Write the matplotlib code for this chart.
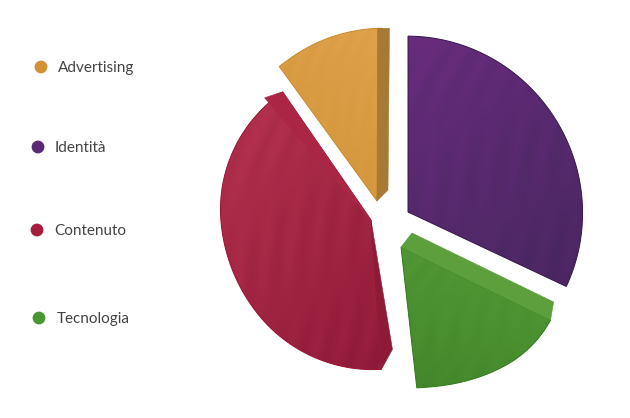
import numpy as np
import matplotlib
matplotlib.use("Agg")
import matplotlib.pyplot as plt
from matplotlib.colors import LinearSegmentedColormap
from matplotlib.patches import Polygon

plt.rcParams['font.family'] = ['Lato', 'DejaVu Sans']

# slices, clockwise starting at the top right
labels = ['Identità', 'Tecnologia', 'Contenuto', 'Advertising']
shares = [32, 16, 41.5, 10.5]

# look of each slice
centers = [(408, 212), (401, 247), (371, 220), (377, 201)]
start_angles = [90, -26, -86, 126]
radii = [(176, 174, 175), (167, 163, 154, 146, 141), (150, 148, 146, 154, 156), (166, 170, 173)]
light = ['#672c7c', '#559c38', '#b5324f', '#e0a24c']
dark = ['#47265f', '#42852a', '#8f1a38', '#d09438']
edges = ['#35174a', '#2f7a18', '#9c1030', '#c98a2a']
grad_dir = [(-0.5, -1), (0.3, -1), (-0.6, -1), (0.4, -1)]

# side faces: slice, which edge, apex shift, rim shift, colour
sides = [(1, 'start', (11, -14), (3, -18), '#5c9f3c'),
         (2, 'start', (0, 0), (11, -20), '#8e1b36'),
         (2, 'end', (0, 0), (-18, 6), '#ab2545'),
         (3, 'end', (11, -11), (7, 0), '#a67a34'),
         (3, 'end', (0, 0), (-5, 0), '#a67a34')]

# legend
legend_names = ['Advertising', 'Identità', 'Contenuto', 'Tecnologia']
legend_colors = ['#d29233', '#5b2a76', '#a51f3c', '#4a9635']
legend_dot_x = [41, 38, 37, 39]
legend_y = [67, 147, 230, 318]
legend_text_x = [58, 55, 54, 57]


def slice_outline(i):
    sweep = shares[i] / sum(shares) * 360
    ang = np.radians(np.linspace(start_angles[i], start_angles[i] - sweep, 90))
    r = np.interp(np.linspace(0, 1, 90), np.linspace(0, 1, len(radii[i])), radii[i])
    # soften the joins between the radius steps
    padded = np.pad(r, 12, mode='edge')
    r = np.convolve(padded, np.ones(25) / 25, mode='valid')
    cx, cy = centers[i]
    x = cx + r * np.cos(ang)
    y = cy - r * np.sin(ang)
    return np.column_stack([x, y])


def shaded_fill(ax, pts, c1, c2, direction, edge):
    # gradient image clipped to the slice, with faint brush-like waves
    x0, y0 = pts.min(axis=0)
    x1, y1 = pts.max(axis=0)
    gx, gy = np.meshgrid(np.linspace(0, 1, 200), np.linspace(0, 1, 200))
    g = gx * direction[0] + gy * direction[1]
    g = (g - g.min()) / (g.max() - g.min())
    g = g + 0.10 * np.sin(40 * (gx + 0.5 * gy) + 3 * np.sin(5 * gy)) * np.sin(7 * gy + 2 * gx)
    cmap = LinearSegmentedColormap.from_list('s', [c1, c2])
    im = ax.imshow(g, cmap=cmap, extent=(x0, x1, y1, y0), aspect='auto', zorder=2)
    patch = Polygon(pts, closed=True, facecolor='none', edgecolor=edge, lw=0.7, zorder=3)
    ax.add_patch(patch)
    im.set_clip_path(patch)


def main():
    fig = plt.figure(figsize=(6.3, 4.18), dpi=100)
    ax = fig.add_axes([0, 0, 1, 1])

    for i in range(len(shares)):
        arc = slice_outline(i)
        pts = np.vstack([centers[i], arc])
        shaded_fill(ax, pts, dark[i], light[i], grad_dir[i], edges[i])

    for i, edge, apex_off, rim_off, col in sides:
        arc = slice_outline(i)
        rim = arc[0] if edge == 'start' else arc[-1]
        c = np.array(centers[i], dtype=float)
        face = [c, rim, rim + rim_off, c + apex_off]
        ax.add_patch(Polygon(face, closed=True, facecolor=col, edgecolor=col, lw=0.4, zorder=4))

    ax.scatter(legend_dot_x, legend_y, s=85, c=legend_colors, linewidths=0, zorder=5)
    for name, x, y in zip(legend_names, legend_text_x, legend_y):
        ax.text(x, y + 1, name, fontsize=11, color='#444444', va='center', ha='left')

    ax.set_xlim(0, 630)
    ax.set_ylim(418, 0)
    ax.axis('off')
    fig.savefig('out.png', dpi=100)


if __name__ == "__main__":
    main()
